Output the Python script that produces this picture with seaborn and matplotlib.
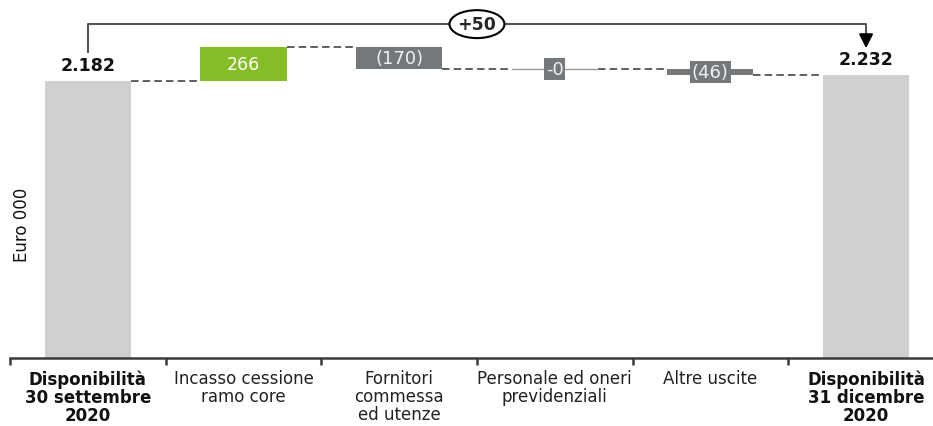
import matplotlib
matplotlib.use("Agg")
import matplotlib.pyplot as plt
from matplotlib.patches import Ellipse
import seaborn as sns

# Cash bridge, Euro 000
categories = [
    "Disponibilità\n30 settembre\n2020",
    "Incasso cessione\nramo core",
    "Fornitori\ncommessa\ned utenze",
    "Personale ed oneri\nprevidenziali",
    "Altre uscite",
    "Disponibilità\n31 dicembre\n2020",
]
start_value = 2182
deltas = [266, -170, -0.4, -46]
end_value = 2232
value_labels = ["2.182", "266", "(170)", "-0", "(46)", "2.232"]
change_label = "+50"

LIGHT = "#D0D0CE"
GREEN = "#86BC25"
DARK = "#75787B"
AXIS = "#3A3A3A"

# running totals -> bottoms and heights of each bar
bottoms, heights, colors = [0], [start_value], [LIGHT]
level = start_value
levels = [level]
for d in deltas:
    new = level + d
    bottoms.append(min(level, new))
    heights.append(abs(d))
    colors.append(GREEN if d > 0 else DARK)
    level = new
    levels.append(level)
bottoms.append(0)
heights.append(end_value)
colors.append(LIGHT)

sns.set_theme(style="white")
plt.rcParams["font.family"] = ["DejaVu Sans"]

fig = plt.figure(figsize=(9.33, 4.27), dpi=100)
ax = fig.add_axes([10 / 933, 68 / 427, 923 / 933, 359 / 427])

bw = 0.553
sns.barplot(x=list(range(len(categories))), y=heights, bottom=bottoms,
            color=LIGHT, width=bw, saturation=1, ax=ax, native_scale=True)
for p, c in zip(ax.patches, colors):
    p.set_facecolor(c)
    p.set_edgecolor("none")

ax.set_xlim(-0.5, 5.43)
ax.set_ylim(0, 2828)

# dashed connectors between consecutive bars
for i, lv in enumerate(levels):
    ax.plot([i + bw / 2, i + 1 - bw / 2], [lv, lv], color="#444444",
            lw=1.2, ls=(0, (4.5, 2.5)), zorder=1)

# hairline for the near-zero step
ax.plot([3 - bw / 2, 3 + bw / 2], [levels[2], levels[2]], color="#999999",
        lw=1.0, zorder=2)

# totals above the first and last bars
for i, (v, lab) in enumerate([(start_value, value_labels[0]),
                               (end_value, value_labels[5])]):
    x = 0 if i == 0 else 5
    ax.annotate(lab, (x, v), xytext=(0, 5), textcoords="offset points",
                ha="center", va="bottom", fontsize=12.5, fontweight="bold",
                color="#111111")

# labels of the change bars
ax.text(1, bottoms[1] + heights[1] / 2, value_labels[1], ha="center",
        va="center", fontsize=12.5, color="white")
ax.text(2, bottoms[2] + heights[2] / 2, value_labels[2], ha="center",
        va="center", fontsize=13, color="#F0F0F0")
for i in (3, 4):
    ax.text(i, bottoms[i] + heights[i] / 2, value_labels[i], ha="center",
            va="center", fontsize=13, color="#F0F0F0", zorder=4,
            bbox=dict(boxstyle="square,pad=0.1", fc=DARK, ec="none"))

# bracket showing the overall change
top_y = 2630
ax.plot([0, 0, 5, 5], [start_value + 220, top_y, top_y, end_value + 300],
        color="#555555", lw=1.5, zorder=3, solid_capstyle="butt")
ax.annotate("", xy=(5, end_value + 208), xytext=(5, end_value + 310),
            arrowprops=dict(arrowstyle="-|>,head_length=0.7,head_width=0.35",
                            color="black", lw=1.5, shrinkA=0, shrinkB=0))
ax.add_patch(Ellipse((2.5, top_y), 0.353, 220, fc="white", ec="black",
                     lw=1.5, zorder=5))
ax.text(2.5, top_y, change_label, ha="center", va="center", fontsize=12.5,
        fontweight="bold", zorder=6)

# axes styling
for s in ("top", "right", "left"):
    ax.spines[s].set_visible(False)
ax.spines["bottom"].set_color(AXIS)
ax.spines["bottom"].set_linewidth(1.8)
ax.set_yticks([])
ax.set_xticks(range(len(categories)))
ax.set_xticklabels(categories, fontsize=12, color="#222222",
                   linespacing=1.0)
for i, t in enumerate(ax.get_xticklabels()):
    if i in (0, 5):
        t.set_fontweight("bold")
        t.set_color("#111111")
ax.tick_params(axis="x", which="major", length=0, pad=8)
ax.set_xticks([k - 0.5 for k in range(6)], minor=True)
ax.tick_params(axis="x", which="minor", length=5, width=1.8, color=AXIS,
               direction="out", bottom=True)
ax.set_xlabel("")
ax.set_ylabel("")

fig.text(22 / 933, 1 - 225 / 427, "Euro 000", rotation=90, ha="center",
         va="center", fontsize=12, color="#111111")

fig.savefig("out.png", dpi=100)
